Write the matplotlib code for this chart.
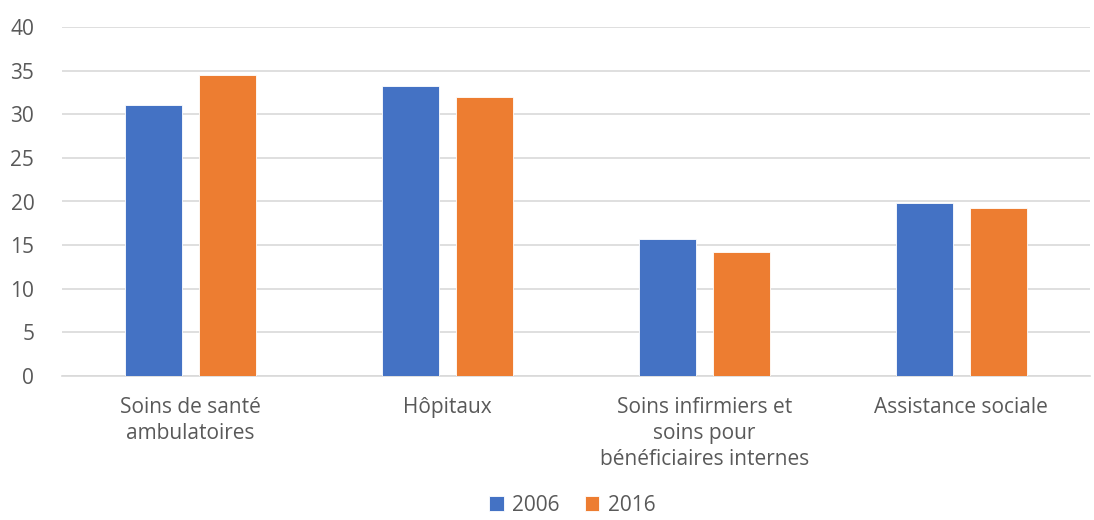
import matplotlib
matplotlib.use("Agg")
import matplotlib.pyplot as plt
import numpy as np

categories = ["Soins de santé\nambulatoires", "Hôpitaux",
              "Soins infirmiers et\nsoins pour\nbénéficiaires internes",
              "Assistance sociale"]
series_names = ["2006", "2016"]
values_2006 = [31.1, 33.2, 15.7, 19.8]
values_2016 = [34.5, 32.0, 14.2, 19.2]
yticks = [0, 5, 10, 15, 20, 25, 30, 35, 40]

plt.rcParams['font.family'] = ['Open Sans', 'DejaVu Sans']
txt = '#595959'
fs = 15

fig = plt.figure(figsize=(10.94, 5.2), dpi=100)
ax = fig.add_axes([0.0567, 0.277, 0.9393, 0.671])

x = np.arange(len(categories))
w = 0.222
off = 0.144
ax.bar(x - off, values_2006, w, color='#4472C4', edgecolor='white', linewidth=0.6, label=series_names[0], zorder=3)
ax.bar(x + off, values_2016, w, color='#ED7D31', edgecolor='white', linewidth=0.6, label=series_names[1], zorder=3)

ax.set_xlim(-0.5, len(categories) - 0.5)
ax.set_ylim(0, 40)
ax.set_yticks(yticks)
ax.set_yticklabels([str(v) for v in yticks], fontsize=fs, color=txt)
ax.set_xticks(x)
ax.set_xticklabels(categories, fontsize=fs, color=txt, linespacing=1.33, va='top')
ax.tick_params(axis='both', length=0)
ax.tick_params(axis='x', pad=15)
ax.tick_params(axis='y', pad=20)
ax.yaxis.grid(True, color='#d9d9d9', linewidth=1.2, zorder=0)
ax.set_axisbelow(True)
for s in ['top', 'right', 'left']:
    ax.spines[s].set_visible(False)
ax.spines['bottom'].set_color('#d9d9d9')
ax.spines['bottom'].set_linewidth(1.2)

leg = fig.legend(loc='center', bbox_to_anchor=(0.523, 0.028), ncol=2, frameon=False,
                 fontsize=fs, handlelength=0.7, handleheight=0.7, handletextpad=0.4,
                 columnspacing=1.2, borderpad=0.1)
for t in leg.get_texts():
    t.set_color(txt)

fig.savefig("out.png", dpi=100)
